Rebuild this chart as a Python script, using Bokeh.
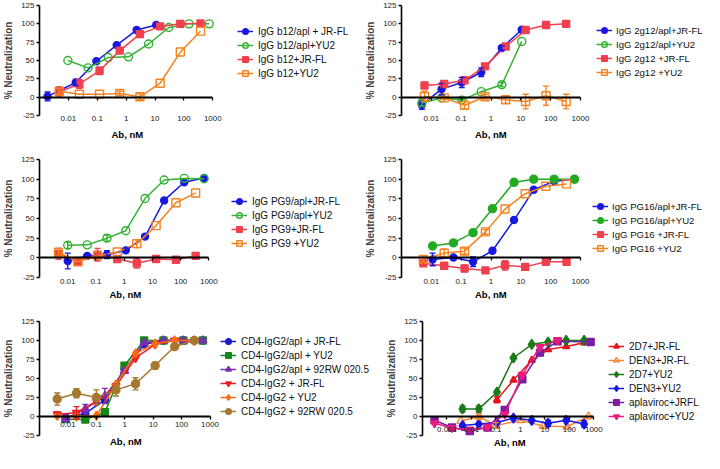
from bokeh.plotting import figure
from bokeh.layouts import column, row
from bokeh.models import (Range1d, FixedTicker, CustomJSTickFormatter, LogAxis, Title,
                          Legend, LegendItem, Whisker, ColumnDataSource)
from bokeh.embed import file_html
from bokeh.resources import INLINE
import math

FONT = "Liberation Sans"
Y_TICKS = [-25, 0, 25, 50, 75, 100, 125]
X_TICKS_A = [0.01, 0.1, 1, 10, 100, 1000]
X_TICKS_B = [0.001, 0.01, 0.1, 1, 10, 100, 1000]
X_LABEL = "Ab, nM"
Y_LABEL = "% Neutralization"

# ---------------- Panel 1: IgG b12 ----------------
P1_LABELS = ["IgG b12/apl + JR-FL", "IgG b12/apl+YU2", "IgG b12+JR-FL", "IgG b12+YU2"]
P1_X_BLUE = [0.0019, 0.018, 0.093, 0.47, 2.3, 11]
P1_Y_BLUE = [1, 20, 49, 71, 91.5, 98.5]
P1_E_BLUE = [6, 4, 0, 0, 0, 0]
P1_X_GREEN = [0.0096, 0.048, 0.24, 1.2, 6, 30, 150, 750]
P1_Y_GREEN = [50, 40, 54, 55, 72.5, 95, 100, 100]
P1_E_GREEN = [0, 0, 0, 0, 0, 0, 0, 0]
P1_X_RED = [0.0048, 0.024, 0.12, 0.6, 3, 15, 75, 375]
P1_Y_RED = [7, 18, 36, 63.5, 86, 96.5, 100, 100.5]
P1_E_RED = [7, 6, 5, 3, 0, 0, 0, 0]
P1_X_ORANGE = [0.0048, 0.024, 0.12, 0.6, 3, 15, 75, 375]
P1_Y_ORANGE = [8, 4, 4, 5, 0.5, 19, 61.5, 90]
P1_E_ORANGE = [4, 0, 0, 3, 4, 0, 0, 0]

# ---------------- Panel 2: IgG 2g12 ----------------
P2_LABELS = ["IgG 2g12/apl+JR-FL", "IgG 2g12/apl+YU2", "IgG 2g12 +JR-FL", "IgG 2g12 +YU2"]
P2_X_BLUE = [0.0048, 0.022, 0.105, 0.47, 2.3, 10.7]
P2_Y_BLUE = [-10.5, 11, 20, 34, 67, 92]
P2_E_BLUE = [6, 8, 7, 6, 3, 0]
P2_X_GREEN = [0.0048, 0.022, 0.105, 0.47, 2.3, 10.7]
P2_Y_GREEN = [-8, -1, -4, 7.5, 17, 76]
P2_E_GREEN = [4, 0, 2, 0, 3, 0]
P2_X_RED = [0.0059, 0.027, 0.13, 0.63, 3.1, 14.5, 70, 330]
P2_Y_RED = [16, 18, 23, 42, 69, 91.5, 98.5, 100]
P2_E_RED = [4, 3, 0, 0, 0, 0, 0, 0]
P2_X_ORANGE = [0.0059, 0.027, 0.13, 0.63, 3.1, 14.5, 70, 330]
P2_Y_ORANGE = [1, -1, -11, 0.5, -3.5, -6, 2, -6]
P2_E_ORANGE = [7, 2, 5, 3, 5, 10, 13, 10]

# ---------------- Panel 3: IgG PG9 ----------------
P3_LABELS = ["IgG PG9/apl+JR-FL", "IgG PG9/apl+YU2", "IgG PG9+JR-FL", "IgG PG9 +YU2"]
P3_X_BLUE = [0.01, 0.049, 0.245, 1.14, 5.5, 26, 134, 676]
P3_Y_BLUE = [-4, 2.5, 4, 9.5, 27, 73, 96, 101.5]
P3_E_BLUE = [10, 2, 5, 3, 0, 0, 0, 0]
P3_X_GREEN = [0.01, 0.049, 0.245, 1.14, 5.5, 26, 134, 676]
P3_Y_GREEN = [16, 16.5, 25, 34.5, 75.5, 99, 101, 100.5]
P3_E_GREEN = [4, 0, 4, 0, 0, 0, 0, 0]
P3_X_RED = [0.0047, 0.023, 0.114, 0.57, 2.8, 13.5, 68, 340]
P3_Y_RED = [5, -4, 4, -1.5, -7, -1.5, -2.5, 2.5]
P3_E_RED = [7, 0, 8, 0, 6, 4, 0, 0]
P3_X_ORANGE = [0.0047, 0.023, 0.114, 0.57, 2.8, 13.5, 68, 340]
P3_Y_ORANGE = [7, -5, 2.5, 7.5, 18, 41, 70, 82.5]
P3_E_ORANGE = [5, 0, 0, 0, 5, 0, 0, 0]

# ---------------- Panel 4: IgG PG16 ----------------
P4_LABELS = ["IgG PG16/apl+JR-FL", "IgG PG16/apl+YU2", "IgG PG16 +JR-FL", "IgG PG16 +YU2"]
P4_X_BLUE = [0.011, 0.055, 0.25, 1.12, 5.9, 27, 131, 630]
P4_Y_BLUE = [-2, 0.5, -5, 9, 48, 86.5, 97.5, 100]
P4_E_BLUE = [8, 0, 6, 0, 0, 0, 0, 0]
P4_X_GREEN = [0.011, 0.055, 0.25, 1.12, 5.9, 27, 131, 630]
P4_Y_GREEN = [15, 19, 32, 62.5, 96, 100, 100, 100]
P4_E_GREEN = [0, 0, 0, 0, 0, 0, 0, 0]
P4_X_RED = [0.0054, 0.027, 0.13, 0.65, 2.95, 14, 69, 340]
P4_Y_RED = [-7, -10, -13.5, -16, -9.5, -11.5, -5, -5]
P4_E_RED = [3, 0, 4, 0, 6, 0, 0, 0]
P4_X_ORANGE = [0.0054, 0.027, 0.13, 0.65, 2.95, 14, 69, 340]
P4_Y_ORANGE = [-2, 6, 8.5, 33, 62, 81.5, 91, 94]
P4_E_ORANGE = [3, 5, 4, 3, 0, 0, 0, 0]

# ---------------- Panel 5: CD4-IgG2 ----------------
P5_LABELS = ["CD4-IgG2/apl + JR-FL", "CD4-IgG2/apl + YU2", "CD4-IgG2/apl + 92RW 020.5",
             "CD4-IgG2 + JR-FL", "CD4-IgG2 + YU2", "CD4-IgG2 + 92RW 020.5"]
P5_X_APL = [0.0083, 0.041, 0.2, 0.98, 4.8, 23, 115, 560]
P5_X_WT = [0.0042, 0.02, 0.1, 0.49, 2.4, 11.7, 57, 280]
P5_Y_BLUE = [-1, 4, 22, 62, 95, 100, 100, 100]
P5_E_BLUE = [0, 0, 0, 0, 0, 0, 0, 0]
P5_Y_GREEN = [-3.5, -4, 5.5, 67, 100, 100, 100, 100]
P5_E_GREEN = [0, 0, 0, 0, 0, 0, 0, 0]
P5_Y_PURPLE = [-3, 10, 27, 60, 97, 100, 100, 100]
P5_E_PURPLE = [4, 6, 10, 0, 0, 0, 0, 0]
P5_Y_RED = [3, 5, 20, 40, 77, 95, 100, 100]
P5_E_RED = [3, 8, 0, 0, 0, 0, 0, 0]
P5_Y_ORANGE = [1, 0, 1, 42, 83, 96, 100, 100]
P5_E_ORANGE = [0, 0, 0, 0, 0, 0, 0, 0]
P5_Y_BROWN = [23, 30.5, 25, 35, 43, 67, 92, 100]
P5_E_BROWN = [8, 6, 10, 8, 8, 4, 0, 0]

# ---------------- Panel 6: CCR5 antagonists ----------------
P6_LABELS = ["2D7+JR-FL", "DEN3+JR-FL", "2D7+YU2", "DEN3+YU2", "aplaviroc+JRFL", "aplaviroc+YU2"]
P6_X_RED = [0.11, 0.52, 2.9, 13.5, 74, 400]
P6_Y_RED = [22, 48, 74, 88, 92, 97]
P6_E_RED = [4, 0, 0, 0, 0, 0]
P6_X_ORANGE = [0.0037, 0.02, 0.1, 1, 8.5, 80, 600]
P6_Y_ORANGE = [-6, 0, -12, -5, -12.5, -13.5, 0]
P6_E_ORANGE = [0, 4, 4, 0, 0, 0, 0]
P6_X_GREEN = [0.0043, 0.02, 0.11, 0.52, 2.9, 13.5, 74, 400]
P6_Y_GREEN = [10, 10, 32, 77, 95, 98, 100, 100]
P6_E_GREEN = [4, 4, 0, 0, 0, 0, 0, 0]
P6_X_BLUE = [0.0043, 0.02, 0.11, 0.52, 2.9, 13.5, 74, 400]
P6_Y_BLUE = [-12, -10, -8, -2, -5, -9, -5, -10]
P6_E_BLUE = [0, 0, 0, 0, 0, 4, 0, 4]
P6_X_PURPLE = [0.00031, 0.0016, 0.0085, 0.045, 0.23, 1.2, 6.3, 33, 740]
P6_Y_PURPLE = [-5, -14.5, -19.5, -14.5, 8.5, 49, 84, 99, 98]
P6_E_PURPLE = [0, 0, 3, 0, 0, 0, 0, 0, 0]
P6_X_MAGENTA = [0.00031, 0.0016, 0.0085, 0.045, 0.23, 1.2, 6.3, 33]
P6_Y_MAGENTA = [-9, -15, -17, -14, 3, 55, 91.5, 100.5]
P6_E_MAGENTA = [0, 0, 0, 0, 0, 0, 0, 0]

BLUE = "#1818e0"
GREEN = "#33b233"
RED = "#f0404e"
ORANGE = "#f5821f"

S_P1 = [(BLUE, "circle", 7, True), (GREEN, "circle", 8, False),
        (RED, "square", 7, True), (ORANGE, "square", 8, False)]
S_P4 = [(BLUE, "circle", 7, True), ("#22aa22", "circle", 8, True),
        (RED, "square", 7, True), (ORANGE, "square", 8, False)]
S_P5 = [("#1a1acc", "circle", 7, True), ("#16861a", "square", 7, True),
        ("#7a2db4", "triangle", 8, True), ("#ec1c24", "inverted_triangle", 8, True),
        ("#ff6a10", "diamond", 9, True), ("#a5782d", "circle", 8, True)]
S_P6 = [("#e8141c", "triangle", 7, True), ("#f58a3a", "triangle", 8, False),
        ("#1a7a1a", "diamond", 10, True), ("#1515e6", "diamond", 10, True),
        ("#7a1fa2", "square", 7, True), ("#ec1c7c", "inverted_triangle", 8, True)]

FMT = "return tick.toString();"


def make_fig(w, h, mbl, mbt, mbb, pw, x_start, x_ticks, lab_standoff, title_standoff):
    """pw = pixel width of the data region; the rest of the frame hosts the legend."""
    fw = w - mbl
    dec = math.log10(1000) - math.log10(x_start)
    x_end = 10 ** (3 + (fw - pw) * dec / pw)
    p = figure(width=w, height=h, x_axis_type="log", title=None,
               x_range=Range1d(x_start, x_end), y_range=Range1d(-25, 125),
               output_backend="svg", toolbar_location=None,
               min_border_left=mbl, min_border_right=0,
               min_border_top=mbt, min_border_bottom=mbb)
    p.xgrid.visible = False
    p.ygrid.visible = False
    p.outline_line_color = None

    ya = p.yaxis[0]
    ya.ticker = FixedTicker(ticks=Y_TICKS)
    ya.formatter = CustomJSTickFormatter(code=FMT)
    ya.axis_label = Y_LABEL
    ya.axis_label_text_font = FONT
    ya.axis_label_text_font_style = "bold"
    ya.axis_label_text_font_size = "10px"
    ya.axis_label_standoff = 4
    ya.major_label_text_font = FONT
    ya.major_label_text_font_size = "8px"
    ya.major_label_text_color = "#222222"
    ya.major_label_standoff = 2
    ya.axis_line_width = 1.6
    ya.axis_line_color = "black"
    ya.major_tick_out = 3
    ya.major_tick_in = 0
    ya.major_tick_line_width = 1.3
    ya.minor_tick_line_color = None

    # outer axis: tick labels only
    xa = p.xaxis[0]
    xa.bounds = (x_start, 1000)
    xa.ticker = FixedTicker(ticks=x_ticks)
    xa.formatter = CustomJSTickFormatter(code=FMT)
    xa.axis_line_color = None
    xa.major_tick_line_color = None
    xa.minor_tick_line_color = None
    xa.major_tick_out = 0
    xa.major_tick_in = 0
    xa.major_label_standoff = lab_standoff
    xa.major_label_text_font = FONT
    xa.major_label_text_font_size = "8px"
    xa.major_label_text_color = "#222222"

    # "Ab, nM" centred under the data region
    t = Title(text=X_LABEL, align="left", offset=pw / 2 - 16, standoff=title_standoff,
              vertical_align="top", text_font=FONT, text_font_size="9.5px",
              text_font_style="bold", text_color="black")
    p.add_layout(t, "below")

    # zero line with its tick marks
    za = LogAxis(fixed_location=0, ticker=FixedTicker(ticks=x_ticks), bounds=(x_start, 1000),
                 formatter=CustomJSTickFormatter(code=FMT))
    za.axis_line_width = 1.8
    za.axis_line_color = "black"
    za.major_tick_out = 3
    za.major_tick_in = 0
    za.major_tick_line_width = 1.3
    za.minor_tick_line_color = None
    za.major_label_text_color = None
    p.add_layout(za, "below")
    return p, h - mbt - mbb


def add_series(p, xs, ys, es, style):
    color, marker, size, filled = style
    ln = p.line(xs, ys, line_color=color, line_width=1.5)
    sc = p.scatter(xs, ys, marker=marker, size=size, line_color=color, line_width=1.4,
                   fill_color=color if filled else None)
    idx = [i for i, e in enumerate(es) if e > 0]
    if idx:
        src = ColumnDataSource(dict(x=[xs[i] for i in idx],
                                    lo=[ys[i] - es[i] for i in idx],
                                    hi=[ys[i] + es[i] for i in idx]))
        w = Whisker(source=src, base="x", lower="lo", upper="hi", dimension="height",
                    line_color=color, line_width=1.4, level="glyph")
        for hd in (w.upper_head, w.lower_head):
            hd.size = 6
            hd.line_color = color
            hd.line_width = 1.4
        p.add_layout(w)
    return [ln, sc]


def add_legend(p, fh, labels, rends, vx, center_off, font_size="10px", standoff=5):
    n = len(labels)
    items = [LegendItem(label=lab, renderers=r) for lab, r in zip(labels, rends)]
    leg = Legend(items=items, location=(vx, fh - center_off - n * 14),
                 glyph_width=16, glyph_height=14, label_height=14, label_width=10,
                 label_standoff=standoff, spacing=0, padding=0, margin=0,
                 border_line_color=None, background_fill_alpha=0,
                 label_text_font=FONT, label_text_font_size=font_size,
                 label_text_color="#111111")
    p.add_layout(leg)


def panel(fig, xs_list, ys_list, es_list, styles):
    return [add_series(fig, xs, ys, es, st)
            for xs, ys, es, st in zip(xs_list, ys_list, es_list, styles)]


# ---- row 0 ----
f1, h1 = make_fig(362, 146, 34, 5, 31, 176, 0.001, X_TICKS_A, 0, 10)
r = panel(f1, [P1_X_BLUE, P1_X_GREEN, P1_X_RED, P1_X_ORANGE],
          [P1_Y_BLUE, P1_Y_GREEN, P1_Y_RED, P1_Y_ORANGE],
          [P1_E_BLUE, P1_E_GREEN, P1_E_RED, P1_E_ORANGE], S_P1)
add_legend(f1, h1, P1_LABELS, r, 176 + 22, 19)

f2, h2 = make_fig(342, 146, 39, 5, 31, 179, 0.001, X_TICKS_A, 0, 10)
r = panel(f2, [P2_X_BLUE, P2_X_GREEN, P2_X_RED, P2_X_ORANGE],
          [P2_Y_BLUE, P2_Y_GREEN, P2_Y_RED, P2_Y_ORANGE],
          [P2_E_BLUE, P2_E_GREEN, P2_E_RED, P2_E_ORANGE], S_P1)
add_legend(f2, h2, P2_LABELS, r, 179 + 16, 18, "9.6px", 4)

# ---- row 1 ----
f3, h3 = make_fig(362, 157, 34, 13, 26, 172, 0.001, X_TICKS_A, 1, 4)
r = panel(f3, [P3_X_BLUE, P3_X_GREEN, P3_X_RED, P3_X_ORANGE],
          [P3_Y_BLUE, P3_Y_GREEN, P3_Y_RED, P3_Y_ORANGE],
          [P3_E_BLUE, P3_E_GREEN, P3_E_RED, P3_E_ORANGE], S_P1)
add_legend(f3, h3, P3_LABELS, r, 172 + 20, 35)

f4, h4 = make_fig(342, 157, 39, 13, 26, 179, 0.001, X_TICKS_A, 1, 4)
r = panel(f4, [P4_X_BLUE, P4_X_GREEN, P4_X_RED, P4_X_ORANGE],
          [P4_Y_BLUE, P4_Y_GREEN, P4_Y_RED, P4_Y_ORANGE],
          [P4_E_BLUE, P4_E_GREEN, P4_E_RED, P4_E_ORANGE], S_P4)
add_legend(f4, h4, P4_LABELS, r, 179 + 12, 40, "9.6px", 4)

# ---- row 2 ----
f5, h5 = make_fig(383, 147, 34, 17, 9, 173, 0.001, X_TICKS_A, -14, 0)
r = panel(f5, [P5_X_APL, P5_X_APL, P5_X_APL, P5_X_WT, P5_X_WT, P5_X_WT],
          [P5_Y_BLUE, P5_Y_GREEN, P5_Y_PURPLE, P5_Y_RED, P5_Y_ORANGE, P5_Y_BROWN],
          [P5_E_BLUE, P5_E_GREEN, P5_E_PURPLE, P5_E_RED, P5_E_ORANGE, P5_E_BROWN], S_P5)
add_legend(f5, h5, P5_LABELS, r, 173 + 8, 20)

f6, h6 = make_fig(321, 147, 33, 18, 14, 175, 0.0001, X_TICKS_B, -9, 2)
r = panel(f6, [P6_X_RED, P6_X_ORANGE, P6_X_GREEN, P6_X_BLUE, P6_X_PURPLE, P6_X_MAGENTA],
          [P6_Y_RED, P6_Y_ORANGE, P6_Y_GREEN, P6_Y_BLUE, P6_Y_PURPLE, P6_Y_MAGENTA],
          [P6_E_RED, P6_E_ORANGE, P6_E_GREEN, P6_E_BLUE, P6_E_PURPLE, P6_E_MAGENTA], S_P6)
add_legend(f6, h6, P6_LABELS, r, 175 + 11, 19)

layout = column(row(f1, f2), row(f3, f4), row(f5, f6))
open("out.html", "w").write(file_html(layout, INLINE))
